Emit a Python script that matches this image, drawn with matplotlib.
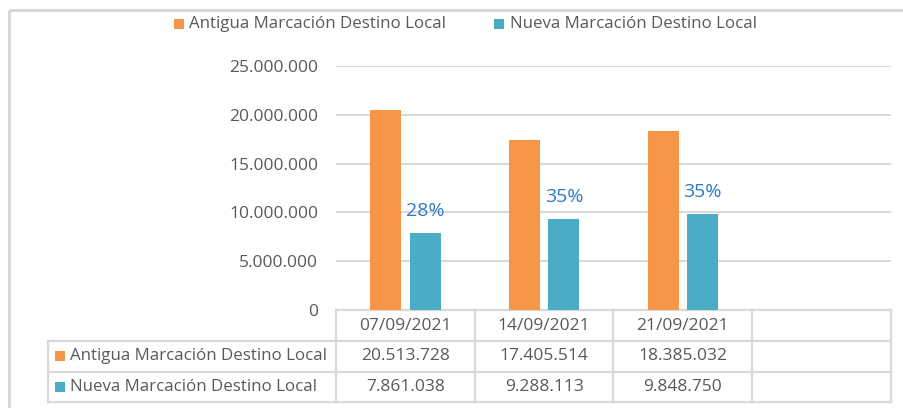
import numpy as np
import matplotlib
matplotlib.use('Agg')
import matplotlib.pyplot as plt
from matplotlib.patches import Rectangle

plt.rcParams['font.family'] = ['Open Sans', 'DejaVu Sans']

# datos
fechas = ['07/09/2021', '14/09/2021', '21/09/2021']
series = ['Antigua Marcación Destino Local', 'Nueva Marcación Destino Local']
antigua = [20513728, 17405514, 18385032]
nueva = [7861038, 9288113, 9848750]
porcentajes = ['28%', '35%', '35%']
yticks = [0, 5000000, 10000000, 15000000, 20000000, 25000000]

naranja = '#F79646'
turquesa = '#4BACC6'
gris_txt = '#595959'
gris_lin = '#D9D9D9'
azul_pct = '#2E7BC4'


def fmt(v):
    return f'{v:,.0f}'.replace(',', '.')


W, H = 904, 408
fig = plt.figure(figsize=(W / 100, H / 100), dpi=100)

# capa en pixeles para marco, leyenda y tabla
ov = fig.add_axes([0, 0, 1, 1], zorder=0)
ov.set_xlim(0, W)
ov.set_ylim(H, 0)
ov.axis('off')

# grafico de barras
x0, x1, ytop, ybot = 336, 891, 66, 310
ax = fig.add_axes([x0 / W, 1 - ybot / H, (x1 - x0) / W, (ybot - ytop) / H], zorder=1)
ax.set_facecolor('none')
n_cols = len(fechas) + 1
ax.set_xlim(-0.5, n_cols - 0.5)
ax.set_ylim(0, 25000000)

x = np.arange(len(fechas))
w = 0.223
off = 0.142
ax.bar(x - off, antigua, w, color=naranja, zorder=2)
ax.bar(x + off, nueva, w, color=turquesa, zorder=2)

for xi, v, p in zip(x, nueva, porcentajes):
    ax.annotate(p, (xi + off, v), xytext=(0, 16), textcoords='offset points',
                ha='center', va='center', fontsize=14, color=azul_pct)

ax.set_yticks(yticks)
ax.set_yticklabels([fmt(t) for t in yticks])
ax.tick_params(axis='y', length=0, pad=13, labelsize=12.5, labelcolor=gris_txt)
ax.set_xticks([])
for t in yticks[1:]:
    ax.axhline(t, color=gris_lin, lw=1.5, zorder=1)
for s in ax.spines.values():
    s.set_visible(False)

# marco exterior
ov.add_patch(Rectangle((9, 10), 910, 420, fill=False, ec=gris_lin, lw=2.2))

# leyenda
leg = [(179.5, 189, naranja, series[0]), (499.5, 510, turquesa, series[1])]
for sx, tx, c, lab in leg:
    ov.scatter([sx], [23.5], marker='s', s=62, color=c, linewidths=0)
    ov.text(tx, 24, lab, fontsize=12.2, color=gris_txt, va='center', ha='left')

# tabla de datos
col_x = [x0 + (x1 - x0) / n_cols * i for i in range(n_cols + 1)]
row_y = [310, 341, 372, 402]
left = 48
lk = dict(color=gris_lin, lw=1.6)
ov.plot([x0, x1], [row_y[0]] * 2, **lk)
for yy in row_y[1:]:
    ov.plot([left, x1], [yy] * 2, **lk)
ov.plot([left, left], [row_y[1], row_y[3]], **lk)
for xx in col_x:
    ov.plot([xx, xx], [row_y[0], row_y[3]], **lk)

def centro(a, b):
    return (a + b) / 2

for i, f in enumerate(fechas):
    ov.text(centro(col_x[i], col_x[i + 1]), centro(row_y[0], row_y[1]), f,
            ha='center', va='center', fontsize=12.5, color=gris_txt)

for r, (vals, c, lab) in enumerate([(antigua, naranja, series[0]), (nueva, turquesa, series[1])]):
    yc = centro(row_y[r + 1], row_y[r + 2])
    ov.scatter([60.5], [yc - 0.5], marker='s', s=62, color=c, linewidths=0)
    ov.text(70, yc, lab, ha='left', va='center', fontsize=12.2, color=gris_txt)
    for i, v in enumerate(vals):
        ov.text(centro(col_x[i], col_x[i + 1]), yc, fmt(v),
                ha='center', va='center', fontsize=12.5, color=gris_txt)

fig.savefig('out.png', dpi=100)
